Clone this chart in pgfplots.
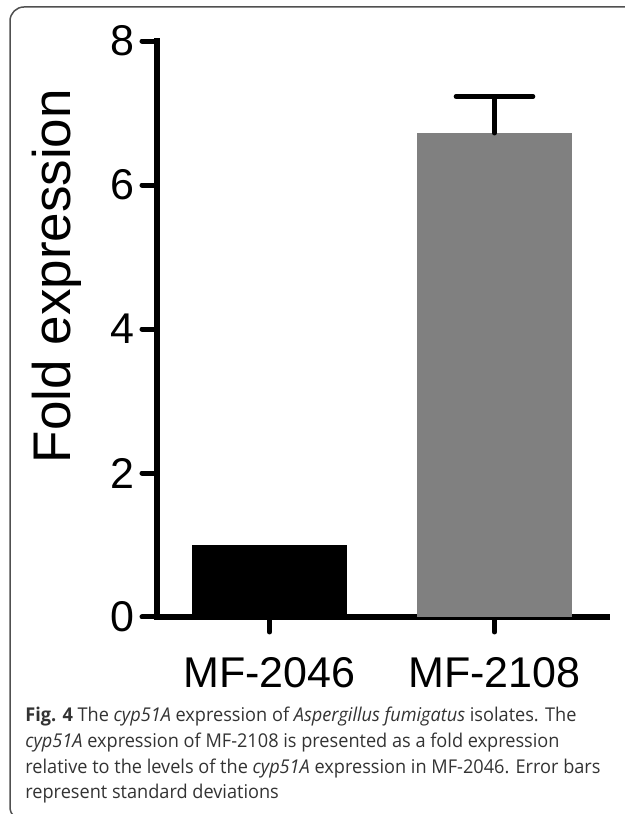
\documentclass[border=0pt]{standalone}
\usepackage{pgfplots}
\pgfplotsset{compat=1.18}
\usepackage{fontspec}
\setmainfont{Liberation Sans}
\newfontfamily\capfont[FakeStretch=0.955]{Open Sans}
\definecolor{bargray}{HTML}{808080}
\definecolor{captxt}{HTML}{333333}
\definecolor{framec}{HTML}{505050}

\begin{document}
\begin{tikzpicture}
  \useasboundingbox (0,0) rectangle (312.5pt,407pt);
  % frame of the figure panel
  \draw[framec, line width=0.75pt, rounded corners=7pt]
    (320pt,403.5pt) -- (5pt,403.5pt) -- (5pt,-3.5pt) -- (40pt,-3.5pt);

  \begin{axis}[
      at={(78.5pt,98.5pt)}, anchor=south west,
      scale only axis, width=225pt, height=288pt,
      xmin=-0.5, xmax=1.5, ymin=0, ymax=8,
      axis x line=bottom, axis y line=left,
      axis line style={line width=3pt, -, line cap=rect},
      xtick={0,1}, xticklabels={MF-2046, MF-2108},
      ytick={0,2,4,6,8},
      tick align=outside, major tick length=7.5pt,
      tick style={line width=2.5pt, line cap=round, black},
      /pgf/number format/assume math mode=true,
      tick label style={font=\fontsize{21.5}{24}\selectfont},
      xticklabel style={inner sep=0pt, yshift=-12.5pt},
      yticklabel style={inner sep=0pt, xshift=-3.5pt},
      ylabel={Fold expression},
      every axis y label/.style={at={(axis description cs:-0.193,0.592)},
        anchor=base, rotate=90, font=\fontsize{26.5}{30}\selectfont},
      clip=false,
    ]
    \addplot[ybar, bar width=77.5pt, bar shift=0pt, fill=black, draw=none]
      coordinates {(0,1.0)};
    \addplot[ybar, bar width=77.5pt, bar shift=0pt, fill=bargray, draw=none,
      error bars/.cd, y dir=plus, y explicit,
      error bar style={line width=2.3pt, black, line cap=round},
      error mark options={rotate=90, line width=2.3pt, black, mark size=19.25pt, line cap=round}]
      coordinates {(1,6.72) +- (0,0.51)};
  \end{axis}

  \begin{scope}[captxt]
    \node[anchor=base west, inner sep=0pt] at (12.5pt,46pt) {\capfont\fontsize{9.5}{12}\selectfont
      \textbf{Fig. 4} The \textit{cyp51A} expression of \textit{Aspergillus fumigatus} isolates. The};
    \node[anchor=base west, inner sep=0pt] at (12.5pt,33.15pt) {\capfont\fontsize{9.5}{12}\selectfont
      \textit{cyp51A} expression of MF-2108 is presented as a fold expression};
    \node[anchor=base west, inner sep=0pt] at (12.5pt,20.3pt) {\capfont\fontsize{9.5}{12}\selectfont
      relative to the levels of the \textit{cyp51A} expression in MF-2046. Error bars};
    \node[anchor=base west, inner sep=0pt] at (12.5pt,7.5pt) {\capfont\fontsize{9.5}{12}\selectfont
      represent standard deviations};
  \end{scope}
\end{tikzpicture}
\end{document}
